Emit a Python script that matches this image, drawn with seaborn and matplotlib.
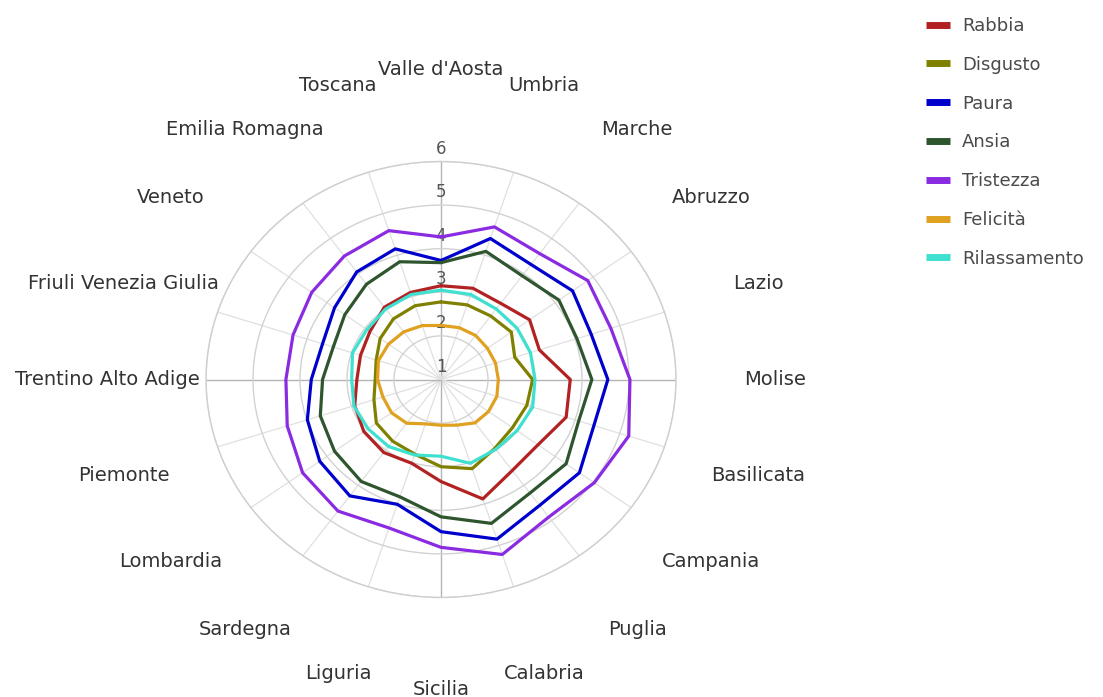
import numpy as np
import pandas as pd
import matplotlib
matplotlib.use("Agg")
import matplotlib.pyplot as plt
import matplotlib.transforms as mtransforms
from matplotlib.lines import Line2D
import seaborn as sns

# ---------------- data ----------------
regions = ["Valle d'Aosta", "Umbria", "Marche", "Abruzzo", "Lazio", "Molise",
           "Basilicata", "Campania", "Puglia", "Calabria", "Sicilia", "Liguria",
           "Sardegna", "Lombardia", "Piemonte", "Trentino Alto Adige",
           "Friuli Venezia Giulia", "Veneto", "Emilia Romagna", "Toscana"]

series_names = ["Rabbia", "Disgusto", "Paura", "Ansia", "Tristezza", "Felicità", "Rilassamento"]

rabbia = [3.15, 3.20, 3.16, 3.33, 3.20, 3.75, 3.80, 3.55, 3.58, 3.88,
          3.34, 3.02, 3.07, 3.03, 2.93, 2.79, 2.80, 2.87, 3.05, 3.10]
disgusto = [2.78, 2.80, 2.80, 2.85, 2.65, 2.95, 2.92, 2.88, 2.95, 3.15,
            3.00, 2.80, 2.75, 2.70, 2.50, 2.40, 2.45, 2.60, 2.72, 2.78]
paura = [3.73, 4.40, 4.26, 4.46, 4.36, 4.55, 4.42, 4.64, 4.57, 4.85,
         4.49, 4.01, 4.30, 4.19, 3.99, 3.76, 3.65, 3.80, 4.05, 4.15]
ansia = [3.68, 4.09, 3.94, 4.10, 4.04, 4.21, 4.08, 4.29, 4.22, 4.47,
         4.15, 3.83, 3.89, 3.80, 3.70, 3.52, 3.41, 3.53, 3.70, 3.84]
tristezza = [4.27, 4.68, 4.57, 4.86, 4.80, 5.02, 5.20, 5.03, 4.90, 5.22,
             4.85, 4.58, 4.73, 4.64, 4.44, 4.30, 4.31, 4.40, 4.50, 4.59]
felicita = [2.24, 2.25, 2.25, 2.22, 2.22, 2.22, 2.25, 2.25, 2.23, 2.10,
            2.05, 2.07, 2.24, 2.30, 2.30, 2.35, 2.40, 2.38, 2.35, 2.30]
rilassamento = [3.05, 3.05, 3.00, 3.00, 3.00, 3.00, 3.05, 3.00, 2.98, 3.02,
                2.76, 2.82, 2.90, 2.92, 2.95, 2.90, 2.98, 2.95, 3.00, 3.05]

r_ticks = [1, 2, 3, 4, 5, 6]

colors = {"Rabbia": "#b22222", "Disgusto": "#808000", "Paura": "#0000cd",
          "Ansia": "#2f552f", "Tristezza": "#8a2be2", "Felicità": "#e0a020",
          "Rilassamento": "#40e0d0"}

series_values = [rabbia, disgusto, paura, ansia, tristezza, felicita, rilassamento]

# ---------------- figure ----------------
sns.set_theme(style="white")
plt.rcParams["font.family"] = ["DejaVu Sans"]

W, H = 1103, 697
fig = plt.figure(figsize=(W / 100, H / 100), dpi=100)
fig.patch.set_facecolor("white")
ax = fig.add_axes([206 / W, (H - 597.5) / H, 470 / W, 436 / H], projection="polar")
ax.set_aspect("auto")
ax.set_theta_zero_location("N")
ax.set_theta_direction(-1)

n = len(regions)
theta = np.linspace(0, 2 * np.pi, n, endpoint=False)
theta_closed = np.append(theta, 2 * np.pi)

rows = []
for name, vals in zip(series_names, series_values):
    for t, v in zip(theta_closed, list(vals) + [vals[0]]):
        rows.append({"series": name, "theta": t, "value": v})
df = pd.DataFrame(rows)

sns.lineplot(data=df, x="theta", y="value", hue="series", hue_order=series_names,
             palette=colors, sort=False, estimator=None, errorbar=None,
             linewidth=2.3, legend=False, ax=ax, zorder=3)

ax.set_ylim(1, 6)
ax.set_yticks(r_ticks)
ax.set_yticklabels([])
ax.set_xticks(theta)
ax.set_xticklabels([])
ax.set_xlabel("")
ax.set_ylabel("")
ax.grid(True)
ax.yaxis.grid(True, color="#d2d2d2", linewidth=1.0)
ax.xaxis.grid(True, color="#e0e0e0", linewidth=0.9)
for i, gl in enumerate(ax.xaxis.get_gridlines()):
    if i % 5 == 0:
        gl.set_color("#b4b4b4")
        gl.set_linewidth(1.0)
ax.spines["polar"].set_color("#cfcfcf")
ax.spines["polar"].set_linewidth(1.0)
ax.tick_params(axis="both", length=0)

# radial tick labels, drawn just above each ring on the vertical axis
offset = mtransforms.offset_copy(ax.transData, fig=fig, x=0, y=13, units="dots")
for v in r_ticks:
    ax.text(0, v, str(v), transform=offset, ha="center", va="center",
            fontsize=12, color="#555555", zorder=1)

# category labels
for t, name in zip(theta, regions):
    ax.text(t, 8.1, name, ha="center", va="center", fontsize=14,
            color="#333333", clip_on=False)

# legend
handles = [Line2D([0], [0], color=colors[s], lw=5, solid_capstyle="butt") for s in series_names]
fig.legend(handles, series_names, loc="upper left",
           bbox_to_anchor=(926 / W, 1 - 17 / H), frameon=False, fontsize=13,
           handlelength=1.33, handletextpad=0.66, labelspacing=1.15,
           borderpad=0, borderaxespad=0, labelcolor="#4a4a4a")

fig.savefig("out.png", dpi=100)
